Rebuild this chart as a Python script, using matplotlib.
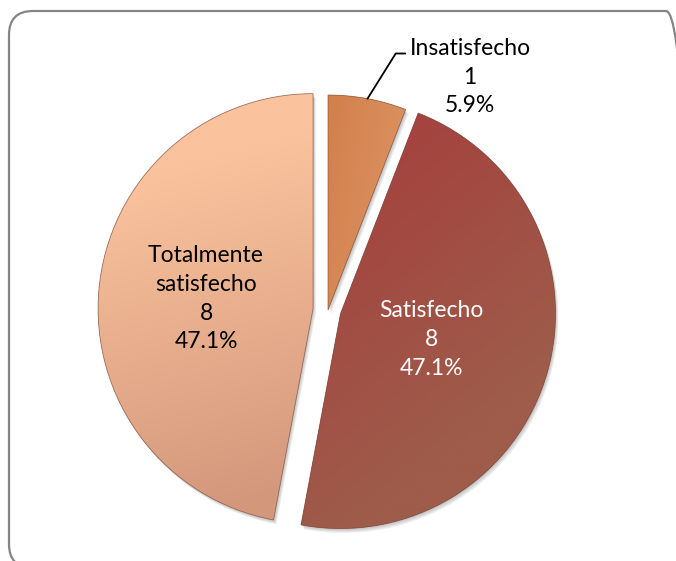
import numpy as np
import matplotlib.pyplot as plt
from matplotlib.patches import FancyBboxPatch, Wedge
from matplotlib.colors import to_rgb

# data
labels = ['Insatisfecho', 'Satisfecho', 'Totalmente\nsatisfecho']
counts = [1, 8, 8]

# styling
colors = ['#D7874A', '#A4453F', '#F0B18E']
grad_start = ['#C4652B', '#A63C3C', '#FAC29D']
grad_end = ['#E7A97D', '#9E5C4A', '#D3987C']
grad_angle = [-10, -50, -75]
explode = [0, 13, 15]
label_dist = [None, 0.44, 0.5]
text_colors = ['black', 'white', 'black']

W, H = 676, 561
plt.rcParams['font.family'] = ['Lato', 'DejaVu Sans']

fig = plt.figure(figsize=(W / 100, H / 100), dpi=100)
ax = fig.add_axes([0, 0, 1, 1])

total = sum(counts)
pcts = [100.0 * c / total for c in counts]

wedges, _ = ax.pie(counts, colors=colors, startangle=90, counterclock=False,
                   explode=explode, center=(328, 251), radius=215,
                   wedgeprops=dict(edgecolor='none', zorder=3))
ax.set_xlim(0, W)
ax.set_ylim(0, H)
ax.set_aspect('equal')
ax.axis('off')


def gradient(c0, c1, angle, n=200):
    u, v = np.meshgrid(np.linspace(-1, 1, n), np.linspace(-1, 1, n))
    a = np.deg2rad(angle)
    t = np.clip((u * np.cos(a) + v * np.sin(a)) / 1.6 + 0.5, 0, 1)[..., None]
    return np.array(to_rgb(c0)) * (1 - t) + np.array(to_rgb(c1)) * t


for i, w in enumerate(wedges):
    cx, cy = w.center
    r = w.r
    # soft shadow under the slice
    for k in range(1, 6):
        ax.add_patch(Wedge((cx + 0.6 * k, cy - 0.9 * k), r, w.theta1, w.theta2,
                           facecolor='black', edgecolor='none', alpha=0.05,
                           zorder=1))
    img = gradient(grad_start[i], grad_end[i], grad_angle[i])
    im = ax.imshow(img, extent=(cx - r, cx + r, cy - r, cy + r), origin='lower',
                   interpolation='bilinear', zorder=3.1)
    im.set_clip_path(w)
    ax.add_patch(Wedge((cx, cy), r, w.theta1, w.theta2, fill=False,
                       edgecolor='#7b4d3e', linewidth=0.6, alpha=0.7,
                       zorder=3.2))
ax.set_xlim(0, W)
ax.set_ylim(0, H)

# labels
for i, w in enumerate(wedges):
    txt = '{}\n{}\n{:.1f}%'.format(labels[i], counts[i], pcts[i])
    cx, cy = w.center
    mid = np.deg2rad(0.5 * (w.theta1 + w.theta2))
    if label_dist[i] is not None:
        d = label_dist[i] * w.r
        ax.text(cx + d * np.cos(mid), cy + d * np.sin(mid), txt,
                ha='center', va='center', multialignment='center',
                fontsize=16.5, linespacing=1.45, color=text_colors[i], zorder=5)
    else:
        edge = (cx + w.r * np.cos(mid), cy + w.r * np.sin(mid))
        ax.annotate(txt, xy=edge, xytext=(470, 484), ha='center', va='center',
                    multialignment='center', fontsize=16.5, linespacing=1.45,
                    color=text_colors[i], zorder=5,
                    arrowprops=dict(arrowstyle='-', color='black', lw=1.3,
                                    shrinkA=1, shrinkB=0, relpos=(0, 0.8),
                                    connectionstyle='angle,angleA=0,angleB=58,rad=0'))

# outer frame
frame = FancyBboxPatch((9, -7), 681, 557, boxstyle='round,pad=0,rounding_size=24',
                       fill=False, edgecolor='#858585', linewidth=1.6, clip_on=False,
                       zorder=6)
ax.add_patch(frame)

fig.savefig('out.png', dpi=100)
